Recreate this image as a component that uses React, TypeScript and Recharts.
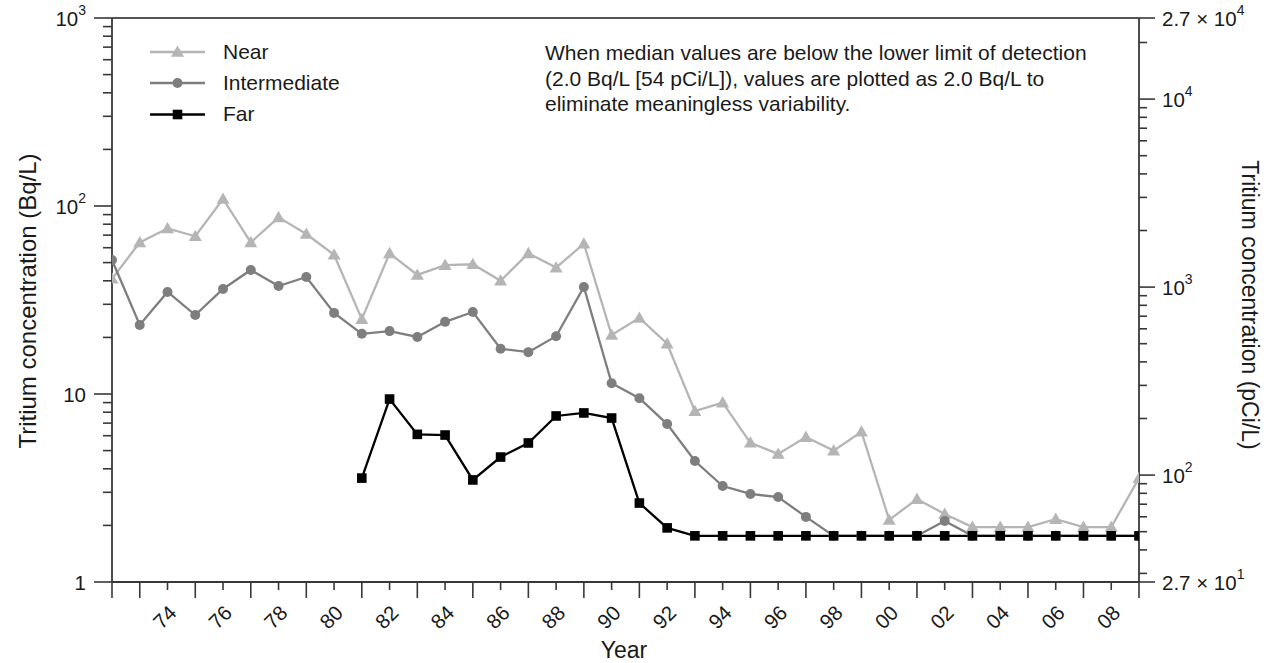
import React from 'react';
import { LineChart, Line, XAxis, YAxis, ReferenceLine } from 'recharts';

// ---------- data ----------
const years = [
  1972, 1973, 1974, 1975, 1976, 1977, 1978, 1979, 1980, 1981,
  1982, 1983, 1984, 1985, 1986, 1987, 1988, 1989, 1990, 1991,
  1992, 1993, 1994, 1995, 1996, 1997, 1998, 1999, 2000, 2001,
  2002, 2003, 2004, 2005, 2006, 2007, 2008, 2009,
];

const near = [
  41, 64, 76, 69, 109, 64, 87, 71, 55, 25,
  56, 43, 48.5, 49, 40, 56, 47, 63, 20.6, 25.4,
  18.5, 8.1, 9.0, 5.5, 4.8, 5.9, 5.0, 6.3, 2.14, 2.76,
  2.3, 1.96, 1.96, 1.96, 2.16, 1.96, 1.96, 3.57,
];

const intermediate = [
  51.6, 23.3, 34.9, 26.3, 36.2, 45.7, 37.5, 41.9, 27, 20.9,
  21.6, 20.1, 24.2, 27.3, 17.4, 16.7, 20.3, 37.1, 11.4, 9.5,
  6.92, 4.4, 3.24, 2.94, 2.83, 2.22, 1.76, 1.76, 1.76, 1.76,
  2.11, 1.76, 1.76, 1.76, 1.76, 1.76, 1.76, 1.76,
];

const far: (number | null)[] = [
  null, null, null, null, null, null, null, null, null, 3.57,
  9.4, 6.1, 6.05, 3.49, 4.62, 5.49, 7.64, 7.93, 7.45, 2.63,
  1.94, 1.76, 1.76, 1.76, 1.76, 1.76, 1.76, 1.76, 1.76, 1.76,
  1.76, 1.76, 1.76, 1.76, 1.76, 1.76, 1.76, 1.76,
];

const labeledYears = [1974, 1976, 1978, 1980, 1982, 1984, 1986, 1988, 1990, 1992, 1994, 1996, 1998, 2000, 2002, 2004, 2006, 2008];
const yearLabels = ['74', '76', '78', '80', '82', '84', '86', '88', '90', '92', '94', '96', '98', '00', '02', '04', '06', '08'];

const leftTicks = [
  1, 2, 3, 4, 5, 6, 7, 8, 9,
  10, 20, 30, 40, 50, 60, 70, 80, 90,
  100, 200, 300, 400, 500, 600, 700, 800, 900,
  1000,
];
const leftMajor = [1, 10, 100, 1000];
const leftLabelBase = ['1', '10', '10', '10'];
const leftLabelExp = ['', '', '2', '3'];

const rightTicksPci = [
  27, 30, 40, 50, 60, 70, 80, 90,
  100, 200, 300, 400, 500, 600, 700, 800, 900,
  1000, 2000, 3000, 4000, 5000, 6000, 7000, 8000, 9000,
  10000, 20000, 27000,
];
const rightMajor = [27, 100, 1000, 10000, 27000];
const rightLabelBase = ['2.7 \u00d7 10', '10', '10', '10', '2.7 \u00d7 10'];
const rightLabelExp = ['1', '2', '3', '4', '4'];
const pCiPerBq = 27;

const data = years.map((year, i) => ({
  year,
  near: near[i],
  intermediate: intermediate[i],
  far: far[i],
}));

// ---------- styles ----------
const FONT = '"Liberation Sans", Arial, Helvetica, sans-serif';
const AXIS = '#383838';
const TXT = '#1a1a1a';
const NEAR_C = '#b5b5b5';
const INT_C = '#7e7e7e';
const FAR_C = '#000000';
const TICK_FS = 20.5;
const SUP_FS = 14;

// ---------- ticks ----------
const LeftTick = (props: any) => {
  const { x, y, payload } = props;
  const v = payload.value;
  const mi = leftMajor.indexOf(v);
  const len = mi >= 0 ? 18 : 9;
  return (
    <g>
      <line x1={x - len} x2={x} y1={y} y2={y} stroke={AXIS} strokeWidth={1.6} />
      {mi >= 0 && (
        <text x={x - 26} y={y} textAnchor="end" dominantBaseline="central" fontFamily={FONT} fontSize={TICK_FS} fill={TXT}>
          {leftLabelBase[mi]}
          {leftLabelExp[mi] && (
            <tspan dy={-8} fontSize={SUP_FS}>{leftLabelExp[mi]}</tspan>
          )}
        </text>
      )}
    </g>
  );
};

const RightTick = (props: any) => {
  const { x, y, payload } = props;
  const pci = Math.round(payload.value * pCiPerBq);
  const mi = rightMajor.indexOf(pci);
  const len = mi >= 0 ? 16 : 8;
  return (
    <g>
      <line x1={x} x2={x + len} y1={y} y2={y} stroke={AXIS} strokeWidth={1.6} />
      {mi >= 0 && (
        <text x={x + 23} y={y} textAnchor="start" dominantBaseline="central" fontFamily={FONT} fontSize={TICK_FS} fill={TXT}>
          {rightLabelBase[mi]}
          <tspan dy={-8} fontSize={SUP_FS}>{rightLabelExp[mi]}</tspan>
        </text>
      )}
    </g>
  );
};

const XTick = (props: any) => {
  const { x, y, payload } = props;
  const yr = payload.value;
  const long = yr % 2 === 1 || yr === years[0];
  const li = labeledYears.indexOf(yr);
  return (
    <g>
      <line x1={x} x2={x} y1={y} y2={y + (long ? 16 : 8)} stroke={AXIS} strokeWidth={1.6} />
      {li >= 0 && (
        <text
          transform={`translate(${x - 3},${y + 35}) rotate(-45)`}
          textAnchor="middle"
          dominantBaseline="central"
          fontFamily={FONT}
          fontSize={TICK_FS}
          fill={TXT}
        >
          {yearLabels[li]}
        </text>
      )}
    </g>
  );
};

// ---------- markers ----------
const triangle = (cx: number, cy: number, fill: string) => (
  <polygon points={`${cx},${cy - 6.5} ${cx - 6.5},${cy + 4.8} ${cx + 6.5},${cy + 4.8}`} fill={fill} />
);

const makeDot = (kind: 'tri' | 'circ' | 'sq', color: string, name: string) => (p: any) => {
  const { cx, cy, index, value } = p;
  if (cx == null || cy == null || value == null || Number.isNaN(cy)) return <g key={`${name}-${index}`} />;
  if (kind === 'tri') return <g key={`${name}-${index}`}>{triangle(cx, cy, color)}</g>;
  if (kind === 'circ') return <circle key={`${name}-${index}`} cx={cx} cy={cy} r={5} fill={color} />;
  return <rect key={`${name}-${index}`} x={cx - 4.8} y={cy - 4.8} width={9.6} height={9.6} fill={color} />;
};

export default function App() {
  return (
    <div style={{ position: 'absolute', left: 0, top: 0, width: 1273, height: 663, background: '#fff' }}>
      <LineChart
        width={1273}
        height={663}
        data={data}
        margin={{ top: 18, right: 0, bottom: 0, left: 0 }}
      >
        <XAxis
          dataKey="year"
          type="number"
          domain={[1972, 2009]}
          ticks={years}
          interval={0}
          height={81}
          tickSize={0}
          tickMargin={0}
          tickLine={false}
          tick={<XTick />}
          axisLine={{ stroke: AXIS, strokeWidth: 1.8 }}
          allowDataOverflow
        />
        <YAxis
          yAxisId="left"
          type="number"
          scale="log"
          domain={[1, 1000]}
          ticks={leftTicks}
          interval={0}
          width={112}
          tickSize={0}
          tickMargin={0}
          tickLine={false}
          tick={<LeftTick />}
          axisLine={{ stroke: AXIS, strokeWidth: 1.8 }}
          allowDataOverflow
        />
        <YAxis
          yAxisId="right"
          orientation="right"
          type="number"
          scale="log"
          domain={[1, 1000]}
          ticks={rightTicksPci.map((p) => p / pCiPerBq)}
          interval={0}
          width={134}
          tickSize={0}
          tickMargin={0}
          tickLine={false}
          tick={<RightTick />}
          axisLine={{ stroke: AXIS, strokeWidth: 1.8 }}
          allowDataOverflow
        />
        <ReferenceLine yAxisId="left" y={1000} stroke="#555" strokeWidth={2} ifOverflow="visible" />
        <Line
          yAxisId="left"
          dataKey="near"
          type="linear"
          stroke={NEAR_C}
          strokeWidth={2.3}
          dot={makeDot('tri', NEAR_C, 'near')}
          activeDot={false}
          isAnimationActive={false}
        />
        <Line
          yAxisId="left"
          dataKey="intermediate"
          type="linear"
          stroke={INT_C}
          strokeWidth={2.3}
          dot={makeDot('circ', INT_C, 'int')}
          activeDot={false}
          isAnimationActive={false}
        />
        <Line
          yAxisId="left"
          dataKey="far"
          type="linear"
          stroke={FAR_C}
          strokeWidth={2.3}
          dot={makeDot('sq', FAR_C, 'far')}
          activeDot={false}
          isAnimationActive={false}
          connectNulls={false}
        />
      </LineChart>

      <svg
        width={1273}
        height={663}
        style={{ position: 'absolute', left: 0, top: 0, pointerEvents: 'none' }}
      >
        {/* legend */}
        <g fontFamily={FONT} fontSize={21} fill={TXT}>
          <line x1={150} x2={205} y1={52} y2={52} stroke={NEAR_C} strokeWidth={2.3} />
          {triangle(177.5, 52, NEAR_C)}
          <text x={223} y={58.5}>Near</text>
          <line x1={150} x2={205} y1={83} y2={83} stroke={INT_C} strokeWidth={2.3} />
          <circle cx={177.5} cy={83} r={5} fill={INT_C} />
          <text x={223} y={89.5}>Intermediate</text>
          <line x1={150} x2={205} y1={114.5} y2={114.5} stroke={FAR_C} strokeWidth={2.3} />
          <rect x={172.7} y={109.7} width={9.6} height={9.6} fill={FAR_C} />
          <text x={223} y={121}>Far</text>
        </g>
        {/* annotation */}
        <g fontFamily={FONT} fontSize={21} fill={TXT}>
          <text x={545} y={60}>When median values are below the lower limit of detection</text>
          <text x={545} y={86}>(2.0 Bq/L [54 pCi/L]), values are plotted as 2.0 Bq/L to</text>
          <text x={545} y={111}>eliminate meaningless variability.</text>
        </g>
        {/* axis titles */}
        <text
          transform="translate(27,301) rotate(-90)"
          textAnchor="middle"
          dominantBaseline="central"
          fontFamily={FONT}
          fontSize={24}
          fill={TXT}
        >
          Tritium concentration (Bq/L)
        </text>
        <text
          transform="translate(1250,305) rotate(90)"
          textAnchor="middle"
          dominantBaseline="central"
          fontFamily={FONT}
          fontSize={23}
          fill={TXT}
        >
          Tritium concentration (pCi/L)
        </text>
        <text x={624} y={658} textAnchor="middle" fontFamily={FONT} fontSize={23} fill={TXT}>
          Year
        </text>
      </svg>
    </div>
  );
}
